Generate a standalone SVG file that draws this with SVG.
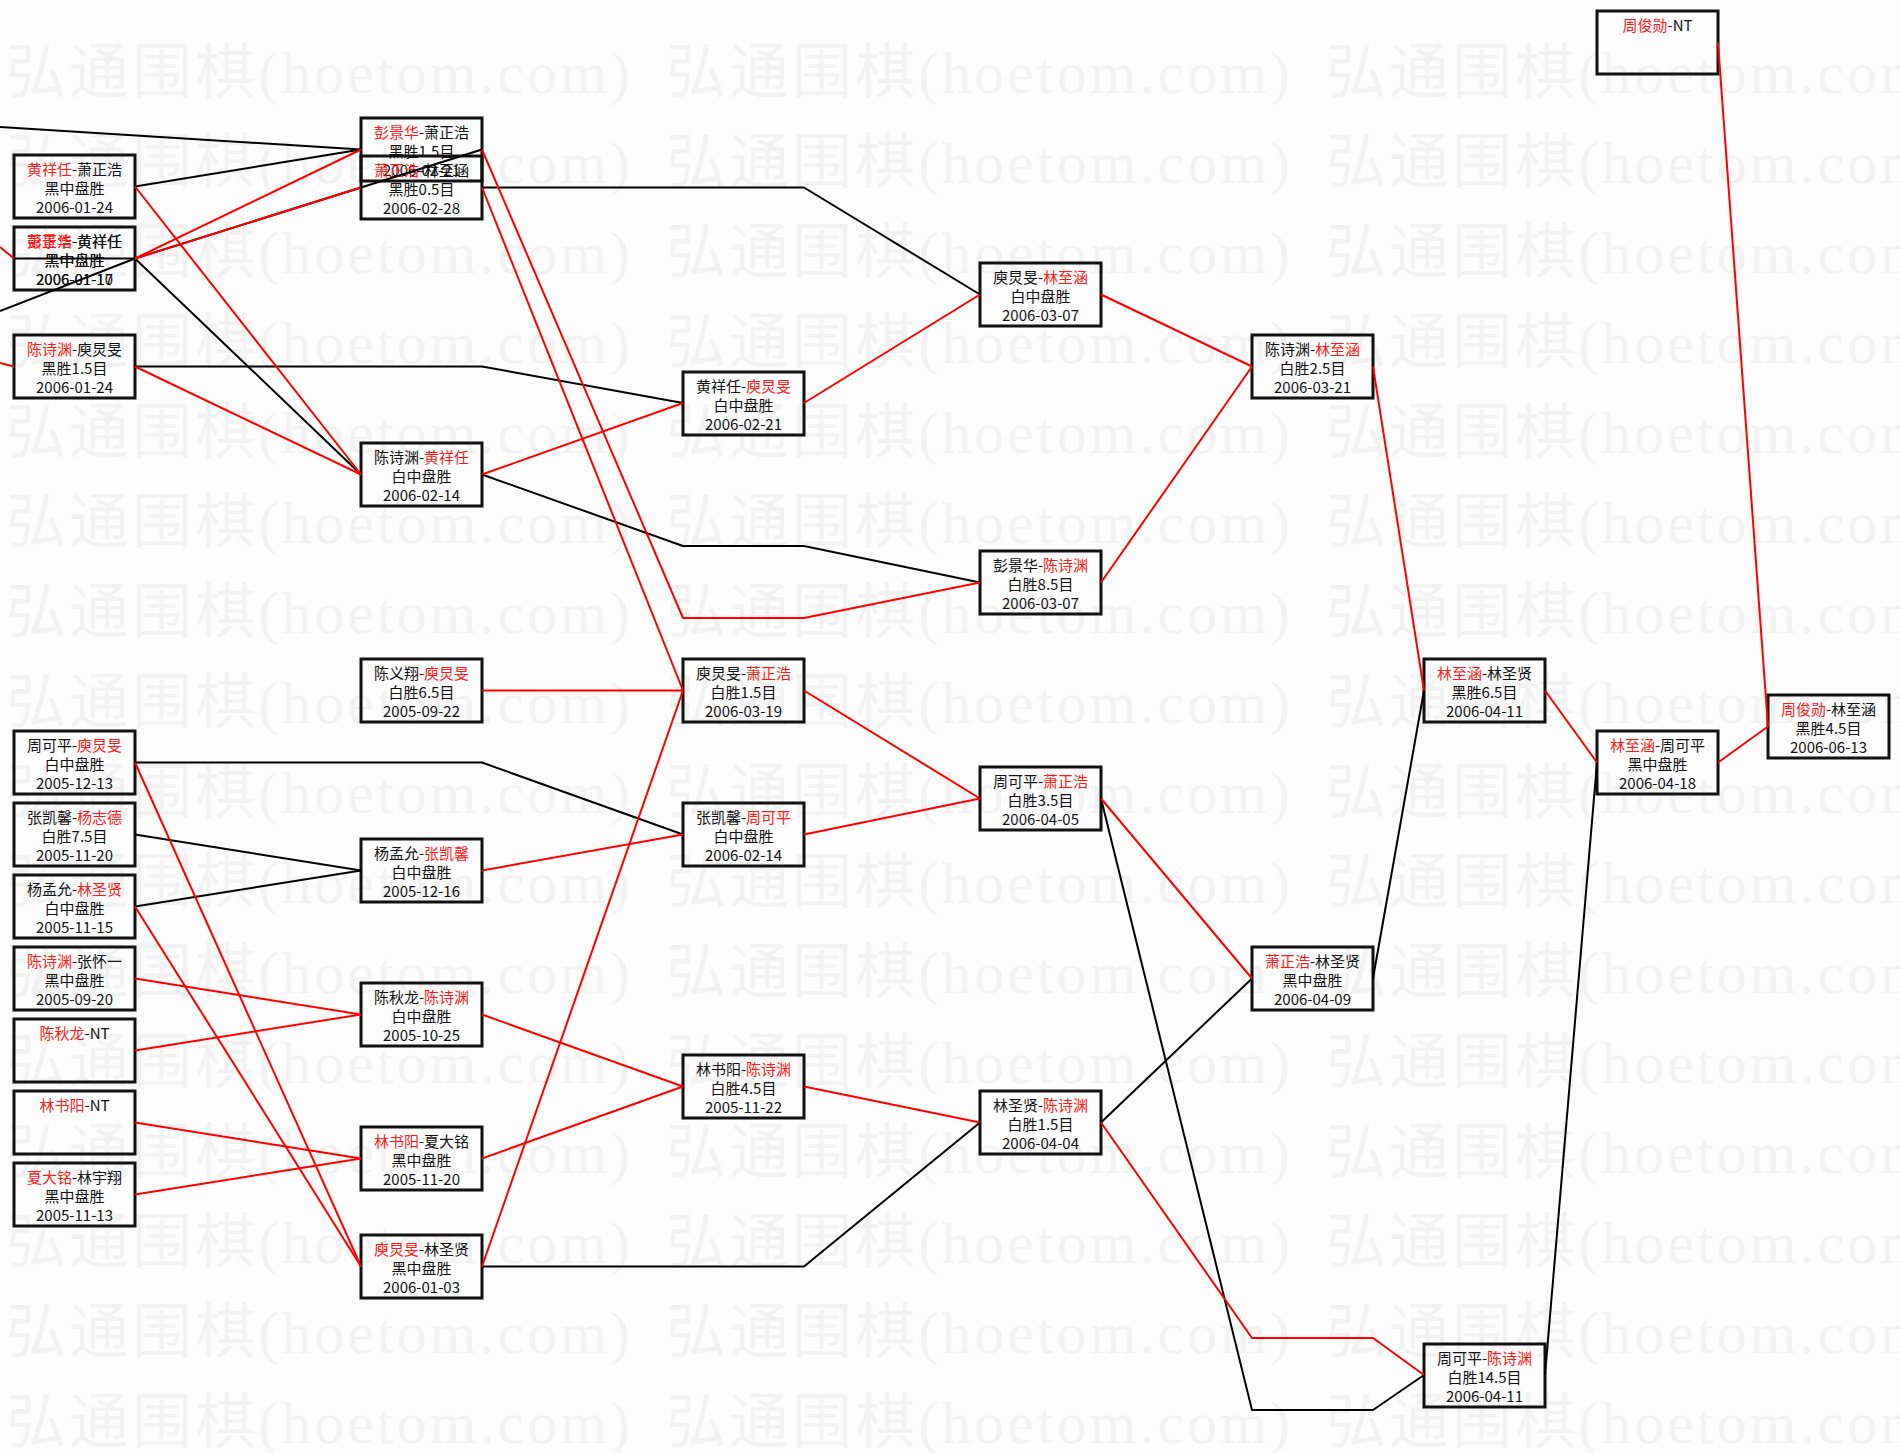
<svg xmlns="http://www.w3.org/2000/svg" xmlns:xlink="http://www.w3.org/1999/xlink" width="1900" height="1453" viewBox="0 0 1900 1453">
<style>
.bg{fill:#fcfcfc}
.wm{font-family:"Liberation Serif","Noto Sans CJK SC",serif;font-size:60px;fill:#f2f2f2}
.box{fill:none;stroke:#111;stroke-width:3}
.t{font-family:"Noto Sans CJK SC","Noto Sans CJK JP",sans-serif;font-size:15px;fill:#111;text-anchor:middle}
.r{fill:#ff1a1a}
.lk{fill:none;stroke:#000;stroke-width:2;stroke-linejoin:round}
.lr{fill:none;stroke:#ff0000;stroke-width:2;stroke-linejoin:round}
</style>
<defs>
<g id="wmrow">
<text class="wm" x="6" y="0" textLength="624" lengthAdjust="spacing">弘通围棋(hoetom.com)</text>
<text class="wm" x="666" y="0" textLength="624" lengthAdjust="spacing">弘通围棋(hoetom.com)</text>
<text class="wm" x="1326" y="0" textLength="624" lengthAdjust="spacing">弘通围棋(hoetom.com)</text>
</g>
</defs>
<rect class="bg" x="0" y="0" width="1900" height="1453"/>
<g id="watermark">
<use xlink:href="#wmrow" y="93"/>
<use xlink:href="#wmrow" y="183"/>
<use xlink:href="#wmrow" y="273"/>
<use xlink:href="#wmrow" y="363"/>
<use xlink:href="#wmrow" y="453"/>
<use xlink:href="#wmrow" y="543"/>
<use xlink:href="#wmrow" y="633"/>
<use xlink:href="#wmrow" y="723"/>
<use xlink:href="#wmrow" y="813"/>
<use xlink:href="#wmrow" y="903"/>
<use xlink:href="#wmrow" y="993"/>
<use xlink:href="#wmrow" y="1083"/>
<use xlink:href="#wmrow" y="1173"/>
<use xlink:href="#wmrow" y="1263"/>
<use xlink:href="#wmrow" y="1353"/>
<use xlink:href="#wmrow" y="1443"/>
</g>

<g id="nodes">
<!-- column 1 -->
<g id="n-a1"><rect class="box" x="14" y="155" width="121" height="63"/>
<text class="t" x="74.5" y="175"><tspan class="r">黄祥任</tspan>-萧正浩</text>
<text class="t" x="74.5" y="194">黑中盘胜</text>
<text class="t" x="74.5" y="212.5">2006-01-24</text></g>

<g id="n-a2"><rect class="box" x="14" y="227" width="121" height="63"/>
<text class="t" x="74.5" y="247"><tspan class="r">萧正浩</tspan>-黄祥任</text>
<text class="t" x="74.5" y="266">黑中盘胜</text>
<text class="t" x="74.5" y="284.5">2006-01-10</text>
<text class="t" x="74.5" y="247"><tspan class="r">彭景华</tspan>-黄祥任</text>
<text class="t" x="74.5" y="266">黑中盘胜</text>
<text class="t" x="74.5" y="284.5">2006-01-17</text></g>

<g id="n-a3"><rect class="box" x="14" y="335" width="121" height="63"/>
<text class="t" x="74.5" y="355"><tspan class="r">陈诗渊</tspan>-庾炅旻</text>
<text class="t" x="74.5" y="374">黑胜1.5目</text>
<text class="t" x="74.5" y="392.5">2006-01-24</text></g>

<g id="n-a4"><rect class="box" x="14" y="731" width="121" height="63"/>
<text class="t" x="74.5" y="751">周可平-<tspan class="r">庾炅旻</tspan></text>
<text class="t" x="74.5" y="770">白中盘胜</text>
<text class="t" x="74.5" y="788.5">2005-12-13</text></g>

<g id="n-a5"><rect class="box" x="14" y="803" width="121" height="63"/>
<text class="t" x="74.5" y="823">张凯馨-<tspan class="r">杨志德</tspan></text>
<text class="t" x="74.5" y="842">白胜7.5目</text>
<text class="t" x="74.5" y="860.5">2005-11-20</text></g>

<g id="n-a6"><rect class="box" x="14" y="875" width="121" height="63"/>
<text class="t" x="74.5" y="895">杨孟允-<tspan class="r">林圣贤</tspan></text>
<text class="t" x="74.5" y="914">白中盘胜</text>
<text class="t" x="74.5" y="932.5">2005-11-15</text></g>

<g id="n-a7"><rect class="box" x="14" y="947" width="121" height="63"/>
<text class="t" x="74.5" y="967"><tspan class="r">陈诗渊</tspan>-张怀一</text>
<text class="t" x="74.5" y="986">黑中盘胜</text>
<text class="t" x="74.5" y="1004.5">2005-09-20</text></g>

<g id="n-a8"><rect class="box" x="14" y="1019" width="121" height="63"/>
<text class="t" x="74.5" y="1039"><tspan class="r">陈秋龙</tspan>-NT</text></g>

<g id="n-a9"><rect class="box" x="14" y="1091" width="121" height="63"/>
<text class="t" x="74.5" y="1111"><tspan class="r">林书阳</tspan>-NT</text></g>

<g id="n-a10"><rect class="box" x="14" y="1163" width="121" height="63"/>
<text class="t" x="74.5" y="1183"><tspan class="r">夏大铭</tspan>-林宇翔</text>
<text class="t" x="74.5" y="1202">黑中盘胜</text>
<text class="t" x="74.5" y="1220.5">2005-11-13</text></g>

<!-- column 2 -->
<g id="n-b1"><rect class="box" x="361" y="118" width="121" height="63"/>
<text class="t" x="421.5" y="138"><tspan class="r">彭景华</tspan>-萧正浩</text>
<text class="t" x="421.5" y="157">黑胜1.5目</text>
<text class="t" x="421.5" y="175.5">2006-02-21</text></g>

<g id="n-b2"><rect class="box" x="361" y="156" width="121" height="63"/>
<text class="t" x="421.5" y="176"><tspan class="r">萧正浩</tspan>-林至涵</text>
<text class="t" x="421.5" y="195">黑胜0.5目</text>
<text class="t" x="421.5" y="213.5">2006-02-28</text></g>

<g id="n-b3"><rect class="box" x="361" y="443" width="121" height="63"/>
<text class="t" x="421.5" y="463">陈诗渊-<tspan class="r">黄祥任</tspan></text>
<text class="t" x="421.5" y="482">白中盘胜</text>
<text class="t" x="421.5" y="500.5">2006-02-14</text></g>

<g id="n-b4"><rect class="box" x="361" y="659" width="121" height="63"/>
<text class="t" x="421.5" y="679">陈义翔-<tspan class="r">庾炅旻</tspan></text>
<text class="t" x="421.5" y="698">白胜6.5目</text>
<text class="t" x="421.5" y="716.5">2005-09-22</text></g>

<g id="n-b5"><rect class="box" x="361" y="839" width="121" height="63"/>
<text class="t" x="421.5" y="859">杨孟允-<tspan class="r">张凯馨</tspan></text>
<text class="t" x="421.5" y="878">白中盘胜</text>
<text class="t" x="421.5" y="896.5">2005-12-16</text></g>

<g id="n-b6"><rect class="box" x="361" y="983" width="121" height="63"/>
<text class="t" x="421.5" y="1003">陈秋龙-<tspan class="r">陈诗渊</tspan></text>
<text class="t" x="421.5" y="1022">白中盘胜</text>
<text class="t" x="421.5" y="1040.5">2005-10-25</text></g>

<g id="n-b7"><rect class="box" x="361" y="1127" width="121" height="63"/>
<text class="t" x="421.5" y="1147"><tspan class="r">林书阳</tspan>-夏大铭</text>
<text class="t" x="421.5" y="1166">黑中盘胜</text>
<text class="t" x="421.5" y="1184.5">2005-11-20</text></g>

<g id="n-b8"><rect class="box" x="361" y="1235" width="121" height="63"/>
<text class="t" x="421.5" y="1255"><tspan class="r">庾炅旻</tspan>-林圣贤</text>
<text class="t" x="421.5" y="1274">黑中盘胜</text>
<text class="t" x="421.5" y="1292.5">2006-01-03</text></g>

<!-- column 3 -->
<g id="n-c1"><rect class="box" x="683" y="372" width="121" height="63"/>
<text class="t" x="743.5" y="392">黄祥任-<tspan class="r">庾炅旻</tspan></text>
<text class="t" x="743.5" y="411">白中盘胜</text>
<text class="t" x="743.5" y="429.5">2006-02-21</text></g>

<g id="n-c2"><rect class="box" x="683" y="659" width="121" height="63"/>
<text class="t" x="743.5" y="679">庾炅旻-<tspan class="r">萧正浩</tspan></text>
<text class="t" x="743.5" y="698">白胜1.5目</text>
<text class="t" x="743.5" y="716.5">2006-03-19</text></g>

<g id="n-c3"><rect class="box" x="683" y="803" width="121" height="63"/>
<text class="t" x="743.5" y="823">张凯馨-<tspan class="r">周可平</tspan></text>
<text class="t" x="743.5" y="842">白中盘胜</text>
<text class="t" x="743.5" y="860.5">2006-02-14</text></g>

<g id="n-c4"><rect class="box" x="683" y="1055" width="121" height="63"/>
<text class="t" x="743.5" y="1075">林书阳-<tspan class="r">陈诗渊</tspan></text>
<text class="t" x="743.5" y="1094">白胜4.5目</text>
<text class="t" x="743.5" y="1112.5">2005-11-22</text></g>

<!-- column 4 -->
<g id="n-d1"><rect class="box" x="980" y="263" width="121" height="63"/>
<text class="t" x="1040.5" y="283">庾炅旻-<tspan class="r">林至涵</tspan></text>
<text class="t" x="1040.5" y="302">白中盘胜</text>
<text class="t" x="1040.5" y="320.5">2006-03-07</text></g>

<g id="n-d2"><rect class="box" x="980" y="551" width="121" height="63"/>
<text class="t" x="1040.5" y="571">彭景华-<tspan class="r">陈诗渊</tspan></text>
<text class="t" x="1040.5" y="590">白胜8.5目</text>
<text class="t" x="1040.5" y="608.5">2006-03-07</text></g>

<g id="n-d3"><rect class="box" x="980" y="767" width="121" height="63"/>
<text class="t" x="1040.5" y="787">周可平-<tspan class="r">萧正浩</tspan></text>
<text class="t" x="1040.5" y="806">白胜3.5目</text>
<text class="t" x="1040.5" y="824.5">2006-04-05</text></g>

<g id="n-d4"><rect class="box" x="980" y="1091" width="121" height="63"/>
<text class="t" x="1040.5" y="1111">林圣贤-<tspan class="r">陈诗渊</tspan></text>
<text class="t" x="1040.5" y="1130">白胜1.5目</text>
<text class="t" x="1040.5" y="1148.5">2006-04-04</text></g>

<!-- column 5 -->
<g id="n-e1"><rect class="box" x="1252" y="335" width="121" height="63"/>
<text class="t" x="1312.5" y="355">陈诗渊-<tspan class="r">林至涵</tspan></text>
<text class="t" x="1312.5" y="374">白胜2.5目</text>
<text class="t" x="1312.5" y="392.5">2006-03-21</text></g>

<g id="n-e2"><rect class="box" x="1252" y="947" width="121" height="63"/>
<text class="t" x="1312.5" y="967"><tspan class="r">萧正浩</tspan>-林圣贤</text>
<text class="t" x="1312.5" y="986">黑中盘胜</text>
<text class="t" x="1312.5" y="1004.5">2006-04-09</text></g>

<!-- column 6 -->
<g id="n-f1"><rect class="box" x="1424" y="659" width="121" height="63"/>
<text class="t" x="1484.5" y="679"><tspan class="r">林至涵</tspan>-林圣贤</text>
<text class="t" x="1484.5" y="698">黑胜6.5目</text>
<text class="t" x="1484.5" y="716.5">2006-04-11</text></g>

<g id="n-f2"><rect class="box" x="1424" y="1344" width="121" height="63"/>
<text class="t" x="1484.5" y="1364">周可平-<tspan class="r">陈诗渊</tspan></text>
<text class="t" x="1484.5" y="1383">白胜14.5目</text>
<text class="t" x="1484.5" y="1401.5">2006-04-11</text></g>

<!-- column 7 -->
<g id="n-g1"><rect class="box" x="1597" y="11" width="121" height="63"/>
<text class="t" x="1657.5" y="31"><tspan class="r">周俊勋</tspan>-NT</text></g>

<g id="n-g2"><rect class="box" x="1597" y="731" width="121" height="63"/>
<text class="t" x="1657.5" y="751"><tspan class="r">林至涵</tspan>-周可平</text>
<text class="t" x="1657.5" y="770">黑中盘胜</text>
<text class="t" x="1657.5" y="788.5">2006-04-18</text></g>

<!-- column 8 -->
<g id="n-h1"><rect class="box" x="1768" y="695" width="121" height="63"/>
<text class="t" x="1828.5" y="715"><tspan class="r">周俊勋</tspan>-林至涵</text>
<text class="t" x="1828.5" y="734">黑胜4.5目</text>
<text class="t" x="1828.5" y="752.5">2006-06-13</text></g>
</g>

<g id="connectors">
<polyline class="lk" points="0,127 361,149.5"/>
<polyline class="lk" points="135,186.5 361,149.5"/>
<polyline class="lk" points="0,311 135,258.5 482,149.5"/>
<polyline class="lk" points="14,258.5 135,258.5 361,474.5"/>
<polyline class="lk" points="135,366.5 482,366.5 683,403"/>
<polyline class="lk" points="482,187.5 804,187.5 980,294.5"/>
<polyline class="lk" points="482,474.5 683,546 804,546 980,582.5"/>
<polyline class="lk" points="135,762.5 482,762.5 683,834.5"/>
<polyline class="lk" points="135,834.5 361,870.5"/>
<polyline class="lk" points="135,906.5 361,870.5"/>
<polyline class="lk" points="482,1266.5 804,1266.5 980,1122.5"/>
<polyline class="lk" points="1101,798.5 1252,1410 1373,1410 1424,1375"/>
<polyline class="lk" points="1101,1122.5 1252,978.5"/>
<polyline class="lk" points="1373,978.5 1424,690.5"/>
<polyline class="lk" points="1545,1375 1597,762.5"/>

<polyline class="lr" points="0,247 14,258.5"/>
<polyline class="lr" points="135,258.5 361,149.5"/>
<polyline class="lr" points="135,258.5 361,187.5"/>
<polyline class="lr" points="135,186.5 361,474.5"/>
<polyline class="lr" points="0,363 14,366.5"/>
<polyline class="lr" points="135,366.5 361,474.5"/>
<polyline class="lr" points="482,474.5 683,403"/>
<polyline class="lr" points="482,149.5 683,618 804,618 980,582.5"/>
<polyline class="lr" points="482,187.5 683,690.5"/>
<polyline class="lr" points="804,403 980,294.5"/>
<polyline class="lr" points="1101,294.5 1252,366.5"/>
<polyline class="lr" points="1101,582.5 1252,366.5"/>
<polyline class="lr" points="1373,366.5 1424,690.5"/>
<polyline class="lr" points="135,762.5 361,1266.5"/>
<polyline class="lr" points="135,906.5 361,1266.5"/>
<polyline class="lr" points="135,978.5 361,1014.5"/>
<polyline class="lr" points="135,1050.5 361,1014.5"/>
<polyline class="lr" points="135,1122.5 361,1158.5"/>
<polyline class="lr" points="135,1194.5 361,1158.5"/>
<polyline class="lr" points="482,690.5 683,690.5"/>
<polyline class="lr" points="482,870.5 683,834.5"/>
<polyline class="lr" points="482,1014.5 683,1086.5"/>
<polyline class="lr" points="482,1158.5 683,1086.5"/>
<polyline class="lr" points="482,1266.5 683,690.5"/>
<polyline class="lr" points="804,690.5 980,798.5"/>
<polyline class="lr" points="804,834.5 980,798.5"/>
<polyline class="lr" points="804,1086.5 980,1122.5"/>
<polyline class="lr" points="1101,798.5 1252,978.5"/>
<polyline class="lr" points="1101,1122.5 1252,1338 1373,1338 1424,1375"/>
<polyline class="lr" points="1545,690.5 1597,762.5"/>
<polyline class="lr" points="1718,762.5 1768,726.5"/>
<polyline class="lr" points="1718,42.5 1768,726.5"/>
</g>
</svg>
